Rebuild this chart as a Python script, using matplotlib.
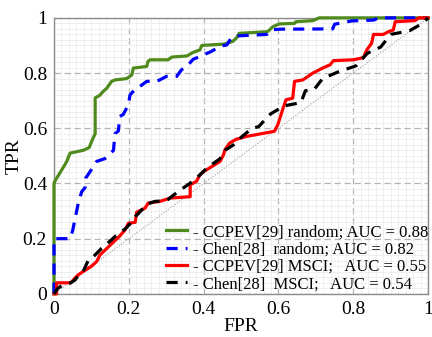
import matplotlib
matplotlib.use('Agg')
import matplotlib.pyplot as plt
from matplotlib.ticker import MultipleLocator

# ROC curves (FPR, TPR)
ccpev_rand_fpr = [0, 0, 0.003, 0.03, 0.034, 0.043, 0.078, 0.094, 0.103, 0.11, 0.11, 0.123, 0.131,
                  0.141, 0.154, 0.163, 0.194, 0.208, 0.212, 0.248, 0.251, 0.257, 0.305, 0.315,
                  0.355, 0.372, 0.39, 0.395, 0.455, 0.478, 0.487, 0.495, 0.571, 0.585, 0.602,
                  0.643, 0.647, 0.692, 0.709, 1]
ccpev_rand_tpr = [0, 0.40, 0.41, 0.47, 0.48, 0.51, 0.52, 0.53, 0.56, 0.58, 0.71, 0.72, 0.733,
                  0.745, 0.77, 0.775, 0.78, 0.793, 0.818, 0.824, 0.842, 0.848, 0.848, 0.858,
                  0.862, 0.875, 0.884, 0.9, 0.905, 0.915, 0.926, 0.944, 0.95, 0.968, 0.978,
                  0.98, 0.986, 0.99, 1.0, 1]

chen_rand_fpr = [0, 0, 0.043, 0.05, 0.056, 0.065, 0.074, 0.083, 0.085, 0.1, 0.114, 0.136, 0.159,
                 0.163, 0.172, 0.176, 0.185, 0.199, 0.203, 0.217, 0.23, 0.248, 0.275, 0.301,
                 0.328, 0.341, 0.355, 0.372, 0.39, 0.42, 0.444, 0.462, 0.473, 0.495, 0.569,
                 0.582, 0.604, 0.745, 0.75, 0.796, 0.855, 0.867, 1]
chen_rand_tpr = [0, 0.2, 0.2, 0.23, 0.27, 0.33, 0.37, 0.385, 0.42, 0.45, 0.48, 0.49, 0.52,
                 0.58, 0.59, 0.643, 0.65, 0.685, 0.72, 0.742, 0.752, 0.77, 0.77, 0.788,
                 0.788, 0.812, 0.824, 0.85, 0.86, 0.878, 0.897, 0.902, 0.926, 0.935, 0.94,
                 0.957, 0.959, 0.96, 0.977, 0.989, 0.992, 1.0, 1]

ccpev_msci_fpr = [0, 0.007, 0.007, 0.045, 0.056, 0.065, 0.078, 0.1, 0.114, 0.123, 0.176, 0.19,
                  0.199, 0.217, 0.221, 0.243, 0.252, 0.283, 0.31, 0.364, 0.364, 0.381, 0.39,
                  0.4, 0.444, 0.453, 0.457, 0.469, 0.487, 0.513, 0.589, 0.598, 0.611, 0.62,
                  0.638, 0.643, 0.665, 0.692, 0.718, 0.738, 0.747, 0.8, 0.827, 0.836, 0.849,
                  0.854, 0.88, 0.894, 0.907, 0.912, 0.965, 0.975, 1]
ccpev_msci_tpr = [0, 0.0, 0.04, 0.04, 0.057, 0.069, 0.081, 0.1, 0.117, 0.141, 0.21, 0.232,
                  0.256, 0.259, 0.296, 0.31, 0.329, 0.335, 0.347, 0.352, 0.395, 0.408, 0.431,
                  0.443, 0.48, 0.504, 0.522, 0.546, 0.56, 0.57, 0.589, 0.612, 0.667, 0.703,
                  0.709, 0.77, 0.775, 0.8, 0.818, 0.83, 0.845, 0.848, 0.856, 0.884, 0.908,
                  0.94, 0.94, 0.95, 0.956, 0.986, 0.99, 1.0, 1]

chen_msci_fpr = [0, 0.01, 0.025, 0.043, 0.056, 0.07, 0.078, 0.092, 0.101, 0.123, 0.127, 0.154,
                 0.163, 0.181, 0.19, 0.203, 0.217, 0.225, 0.248, 0.27, 0.301, 0.332, 0.364,
                 0.39, 0.408, 0.444, 0.457, 0.48, 0.504, 0.53, 0.547, 0.579, 0.615, 0.66,
                 0.672, 0.695, 0.718, 0.759, 0.807, 0.838, 0.873, 0.9, 0.95, 0.985, 1]
chen_msci_tpr = [0, 0.02, 0.033, 0.039, 0.05, 0.075, 0.081, 0.123, 0.129, 0.159, 0.165, 0.196,
                 0.208, 0.226, 0.235, 0.253, 0.28, 0.29, 0.325, 0.335, 0.338, 0.371, 0.401,
                 0.431, 0.455, 0.49, 0.52, 0.54, 0.572, 0.6, 0.606, 0.652, 0.681, 0.693,
                 0.736, 0.74, 0.78, 0.804, 0.826, 0.872, 0.894, 0.94, 0.953, 0.98, 1]

labels = ['- CCPEV[29] random; AUC = 0.88',
          '- Chen[28]  random; AUC = 0.82',
          '- CCPEV[29] MSCI;   AUC = 0.55',
          '- Chen[28]  MSCI;   AUC = 0.54']

plt.rcParams['font.family'] = ['Liberation Serif', 'DejaVu Serif']

fig = plt.figure(figsize=(4.32, 3.37), dpi=100)
ax = fig.add_axes([0.125, 0.128, 0.866, 0.819])

ax.plot([0, 1], [0, 1], color='#a0a0a0', lw=0.8, ls=(0, (1, 1.5)))
ax.plot(ccpev_rand_fpr, ccpev_rand_tpr, color='#4f8a1c', lw=2.3, label=labels[0],
        clip_on=False, zorder=5)
ax.plot(chen_rand_fpr, chen_rand_tpr, color='#0000ff', lw=2.3, ls=(0, (3.5, 2.5)),
        label=labels[1], clip_on=False, zorder=5)
ax.plot(ccpev_msci_fpr, ccpev_msci_tpr, color='#ff0000', lw=2.3, label=labels[2],
        clip_on=False, zorder=5)
ax.plot(chen_msci_fpr, chen_msci_tpr, color='black', lw=2.3, ls=(0, (3.5, 2.5)),
        label=labels[3], clip_on=False, zorder=5)

ax.set_xlim(0, 1)
ax.set_ylim(0, 1)
ax.xaxis.set_minor_locator(MultipleLocator(0.02))
ax.yaxis.set_minor_locator(MultipleLocator(0.02))
ticklbl = ['0', '0.2', '0.4', '0.6', '0.8', '1']
ax.set_xticks([0, 0.2, 0.4, 0.6, 0.8, 1])
ax.set_xticklabels(ticklbl)
ax.set_yticks([0, 0.2, 0.4, 0.6, 0.8, 1])
ax.set_yticklabels(ticklbl)
ax.tick_params(which='both', length=0, labelsize=14, pad=5)

ax.grid(which='minor', color='#ececec', lw=0.6)
ax.grid(which='major', color='#b4b4b4', lw=0.9, ls=(0, (5, 3)))
ax.set_axisbelow(True)
for s in ax.spines.values():
    s.set_color('#8c8c8c')
    s.set_linewidth(1.0)

ax.set_xlabel('FPR', fontsize=14, labelpad=0)
ax.set_ylabel('TPR', fontsize=14)
ax.yaxis.set_label_coords(-0.085, 0.5)

leg = ax.legend(loc='lower right', frameon=False, fontsize=12, handlelength=1.3,
                handletextpad=0.35, labelspacing=0.08, borderpad=0.1,
                borderaxespad=0.0, bbox_to_anchor=(1.006, 0.0))
leg.set_zorder(6)

fig.savefig('out.png', dpi=100)
